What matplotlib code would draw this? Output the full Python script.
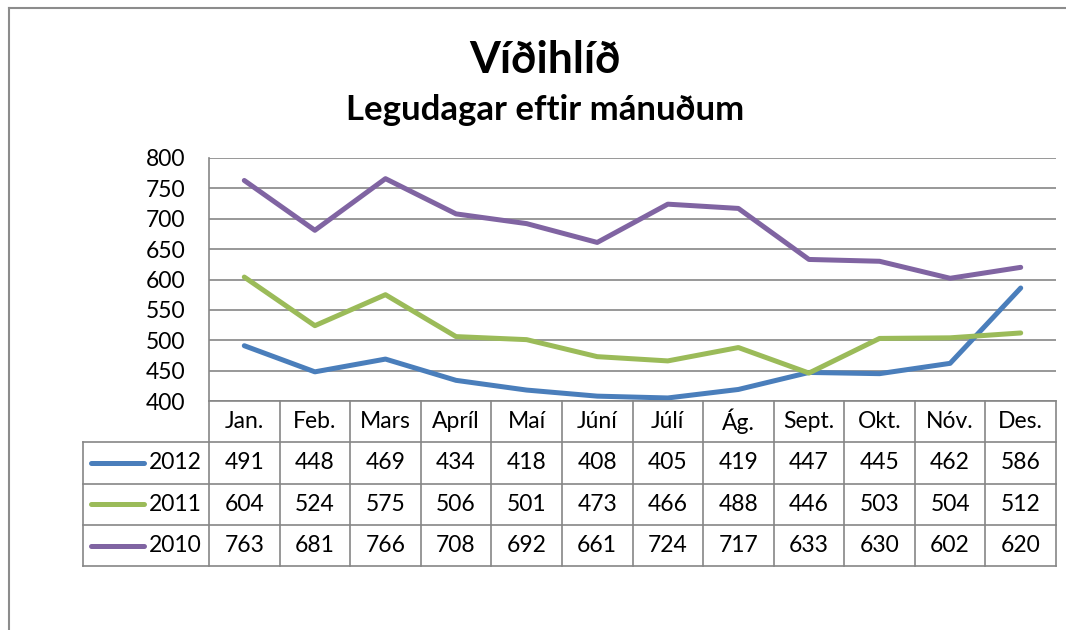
#!/usr/bin/env python3
import matplotlib

matplotlib.use("Agg")
import matplotlib.pyplot as plt
from matplotlib.lines import Line2D
from matplotlib.transforms import blended_transform_factory

plt.rcParams["font.family"] = ["Lato", "DejaVu Sans"]

MONTHS = ["Jan.", "Feb.", "Mars", "Apríl", "Maí", "Júní", "Júlí", "Ág.",
          "Sept.", "Okt.", "Nóv.", "Des."]
YEARS = ["2012", "2011", "2010"]
V2012 = [491, 448, 469, 434, 418, 408, 405, 419, 447, 445, 462, 586]
V2011 = [604, 524, 575, 506, 501, 473, 466, 488, 446, 503, 504, 512]
V2010 = [763, 681, 766, 708, 692, 661, 724, 717, 633, 630, 602, 620]
COLORS = ["#4A7EBB", "#9BBB59", "#8064A2"]
Y_TICKS = [400, 450, 500, 550, 600, 650, 700, 750, 800]

TITLE = "Víðihlíð"
SUBTITLE = "Legudagar eftir mánuðum"

W, H = 1066, 630
GRID = "#868686"
FS = 16.5
LW = 3.6


def fy(py):
    return 1 - py / H


def main():
    fig = plt.figure(figsize=(W / 100, H / 100), dpi=100)
    left, right, top, bottom = 209, 1056, 158, 401
    ax = fig.add_axes([left / W, fy(bottom), (right - left) / W, (bottom - top) / H])

    series = [V2012, V2011, V2010]
    x = list(range(len(MONTHS)))
    for vals, c in zip(series, COLORS):
        ax.plot(x, vals, color=c, lw=LW, solid_capstyle="round",
                solid_joinstyle="round", zorder=3)

    ax.set_xlim(-0.5, len(MONTHS) - 0.5)
    ax.set_ylim(400, 800)
    ax.set_yticks(Y_TICKS)
    ax.set_yticklabels([str(t) for t in Y_TICKS], fontsize=FS)
    ax.tick_params(axis="y", length=0, pad=17)
    ax.set_xticks([])
    ax.grid(axis="y", color=GRID, lw=1.2)
    for s in ["top", "right", "bottom"]:
        ax.spines[s].set_visible(False)
    ax.spines["left"].set_color(GRID)
    ax.spines["left"].set_linewidth(1.2)

    # data table below the axis
    tr = blended_transform_factory(ax.transData, fig.transFigure)
    col_w = (right - left) / len(MONTHS)
    label_x0 = -0.5 - (left - 83) / col_w
    row_h = 41.3
    rows_y = [bottom + row_h * i for i in range(5)]
    xmax = len(MONTHS) - 0.5

    def hline(x0, x1, py):
        fig.add_artist(Line2D([x0, x1], [fy(py), fy(py)], transform=tr,
                              color=GRID, lw=1.2))

    def vline(xd, py0, py1):
        fig.add_artist(Line2D([xd, xd], [fy(py0), fy(py1)], transform=tr,
                              color=GRID, lw=1.2))

    hline(-0.5, xmax, rows_y[0])
    for py in rows_y[1:]:
        hline(label_x0, xmax, py)
    for i in range(len(MONTHS) + 1):
        vline(i - 0.5, rows_y[0], rows_y[4])
    vline(label_x0, rows_y[1], rows_y[4])

    for i, m in enumerate(MONTHS):
        fig.text(i, fy((rows_y[0] + rows_y[1]) / 2), m, transform=tr,
                 ha="center", va="center", fontsize=FS)
    for r, (yr, vals, c) in enumerate(zip(YEARS, series, COLORS)):
        yc = fy((rows_y[r + 1] + rows_y[r + 2]) / 2)
        for i, v in enumerate(vals):
            fig.text(i, yc, str(v), transform=tr, ha="center", va="center",
                     fontsize=FS)
        fig.add_artist(Line2D([label_x0 + 0.12, label_x0 + 0.87], [yc, yc],
                              transform=tr, color=c, lw=LW,
                              solid_capstyle="round"))
        fig.text(-0.6, yc, yr, transform=tr, ha="right", va="center",
                 fontsize=FS)

    fig.text(545 / W, fy(60), TITLE, ha="center", va="center",
             fontsize=32, fontweight="bold")
    fig.text(545 / W, fy(110), SUBTITLE, ha="center", va="center",
             fontsize=25, fontweight="bold")

    # chart frame
    fig.add_artist(Line2D([9 / W, 9 / W], [0, fy(8)], color="#8C8C8C", lw=1.5))
    fig.add_artist(Line2D([9 / W, 1], [fy(8), fy(8)], color="#8C8C8C", lw=1.5))

    fig.savefig("out.png", dpi=100)


if __name__ == "__main__":
    main()
